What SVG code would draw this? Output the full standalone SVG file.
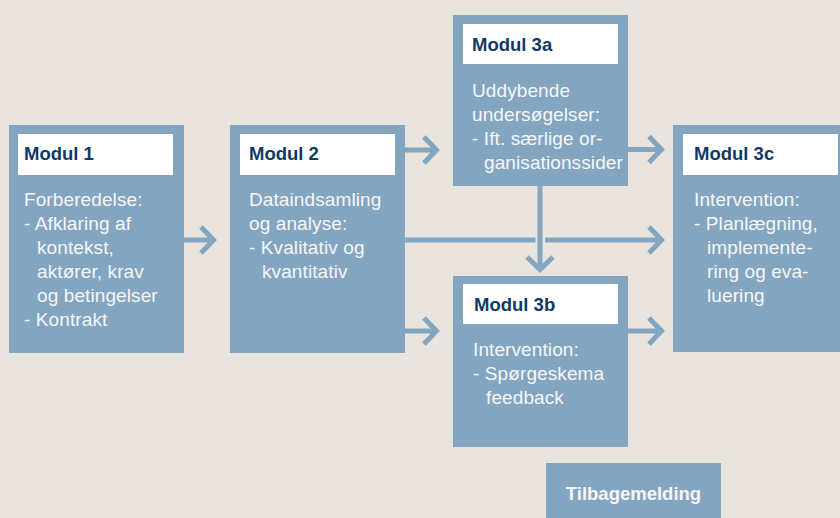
<svg xmlns="http://www.w3.org/2000/svg" width="840" height="518" viewBox="0 0 840 518">
<style>
.box{fill:#84a5c0}
.hdr{fill:#ffffff}
.title{font-family:"Liberation Sans",Arial,sans-serif;font-weight:bold;font-size:18.5px;fill:#0e3a66}
.body{font-family:"Liberation Sans",Arial,sans-serif;font-size:19px;letter-spacing:0.1px;fill:#f6f7f8}
.fb{font-family:"Liberation Sans",Arial,sans-serif;font-weight:bold;font-size:18.5px;fill:#f6f7f8}
.ln{stroke:#84a5c0;stroke-width:5;fill:none}
.hd{stroke:#84a5c0;stroke-width:5;fill:none;stroke-linejoin:miter;stroke-miterlimit:10}
</style>
<rect width="840" height="518" fill="#e9e5de"/>
<g id="connectors">
  <line class="ln" x1="184" y1="240" x2="212" y2="240"/>
  <polyline class="hd" points="201,227 213.5,240 201,253"/>
  <line class="ln" x1="405" y1="150" x2="435" y2="150"/>
  <polyline class="hd" points="424,137 436.5,150 424,163"/>
  <line class="ln" x1="405" y1="331" x2="435" y2="331"/>
  <polyline class="hd" points="424,318 436.5,331 424,344"/>
  <line class="ln" x1="405" y1="240" x2="535.5" y2="240"/>
  <line class="ln" x1="545" y1="240" x2="660" y2="240"/>
  <polyline class="hd" points="649,227 661.5,240 649,253"/>
  <line class="ln" x1="628" y1="149.5" x2="660" y2="149.5"/>
  <polyline class="hd" points="649,136.5 661.5,149.5 649,162.5"/>
  <line class="ln" x1="628" y1="331" x2="660" y2="331"/>
  <polyline class="hd" points="649,318 661.5,331 649,344"/>
  <line class="ln" x1="540" y1="186" x2="540" y2="267"/>
  <polyline class="hd" points="527,257 540,269.5 553,257"/>
</g>
<g id="modul1">
  <rect class="box" x="9" y="125" width="175" height="228"/>
  <rect class="hdr" x="18" y="134" width="155" height="41"/>
  <text class="title" x="24" y="160">Modul 1</text>
  <text class="body" x="24" y="206">Forberedelse:</text>
  <text class="body" x="24" y="230">- Afklaring af</text>
  <text class="body" x="37" y="254">kontekst,</text>
  <text class="body" x="37" y="278">aktører, krav</text>
  <text class="body" x="37" y="302">og betingelser</text>
  <text class="body" x="24" y="326">- Kontrakt</text>
</g>
<g id="modul2">
  <rect class="box" x="230" y="125" width="175" height="228"/>
  <rect class="hdr" x="240" y="134" width="155" height="41"/>
  <text class="title" x="249" y="160">Modul 2</text>
  <text class="body" x="249" y="206">Dataindsamling</text>
  <text class="body" x="249" y="230">og analyse:</text>
  <text class="body" x="249" y="254">- Kvalitativ og</text>
  <text class="body" x="262" y="278">kvantitativ</text>
</g>
<g id="modul3a">
  <rect class="box" x="453" y="15" width="175" height="171"/>
  <rect class="hdr" x="463" y="24" width="155" height="40"/>
  <text class="title" x="472" y="51">Modul 3a</text>
  <text class="body" x="472" y="97">Uddybende</text>
  <text class="body" x="472" y="121">undersøgelser:</text>
  <text class="body" x="472" y="145">- Ift. særlige or-</text>
  <text class="body" x="484" y="169">ganisationssider</text>
</g>
<g id="modul3b">
  <rect class="box" x="453" y="276" width="175" height="171"/>
  <rect class="hdr" x="463" y="284" width="155" height="40"/>
  <text class="title" x="474" y="311">Modul 3b</text>
  <text class="body" x="473" y="356">Intervention:</text>
  <text class="body" x="473" y="380">- Spørgeskema</text>
  <text class="body" x="486" y="404">feedback</text>
</g>
<g id="modul3c">
  <rect class="box" x="673" y="125" width="167" height="227"/>
  <rect class="hdr" x="683" y="134" width="155" height="41"/>
  <text class="title" x="694" y="160">Modul 3c</text>
  <text class="body" x="694" y="206">Intervention:</text>
  <text class="body" x="694" y="230">- Planlægning,</text>
  <text class="body" x="707" y="254">implemente-</text>
  <text class="body" x="707" y="278">ring og eva-</text>
  <text class="body" x="707" y="302">luering</text>
</g>
<g id="tilbagemelding">
  <rect class="box" x="546" y="463" width="175" height="60"/>
  <text class="fb" x="633.5" y="500" text-anchor="middle">Tilbagemelding</text>
</g>
</svg>
